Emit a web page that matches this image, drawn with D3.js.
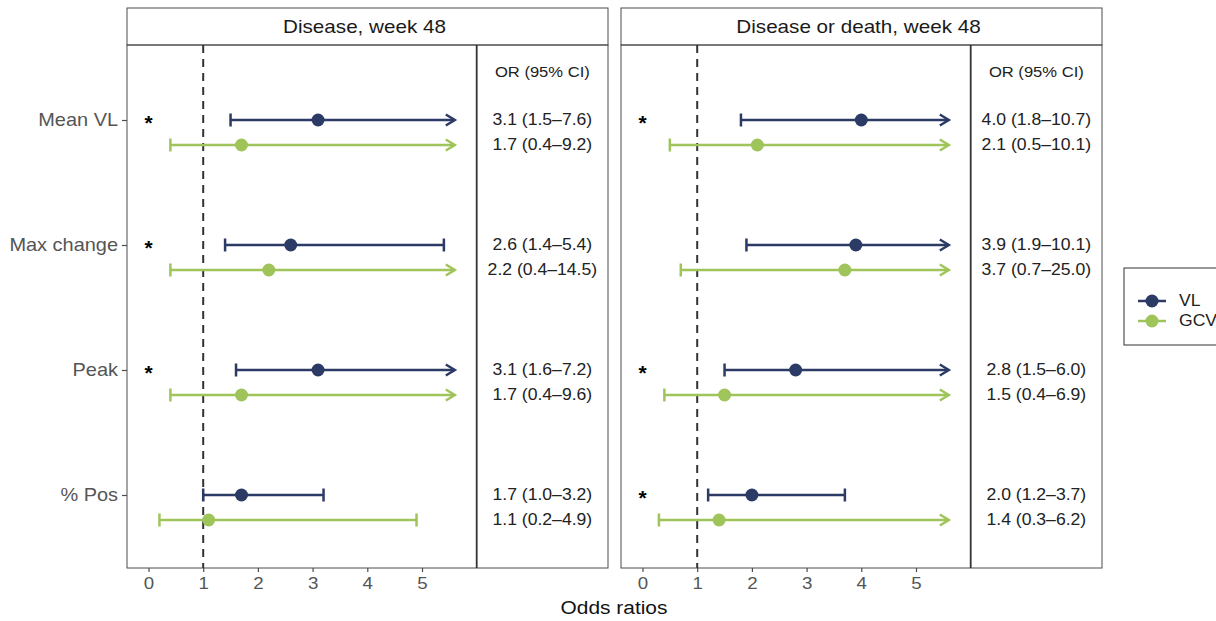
<!DOCTYPE html>
<html><head><meta charset="utf-8">
<script src="https://cdn.jsdelivr.net/npm/d3@7"></script>
<style>body{margin:0;background:#fff;} text{font-family:"Liberation Sans",Arial,sans-serif;}</style>
</head><body><svg id="c" width="1216" height="621"></svg>
<script>
const categories = ["Mean VL","Max change","Peak","% Pos"];
const panels = ["Disease, week 48","Disease or death, week 48"];
const series = ["VL","GCV"];
const colors = ["#2c3a66","#9fc45a"];
const xTicks = [0,1,2,3,4,5];
const capValue = 5.6;
// Disease, week 48
const diseaseVL_or = [3.1,2.6,3.1,1.7], diseaseVL_lo = [1.5,1.4,1.6,1.0], diseaseVL_hi = [7.6,5.4,7.2,3.2];
const diseaseGCV_or = [1.7,2.2,1.7,1.1], diseaseGCV_lo = [0.4,0.4,0.4,0.2], diseaseGCV_hi = [9.2,14.5,9.6,4.9];
const diseaseStar = [true,true,true,false];
// Disease or death, week 48
const deathVL_or = [4.0,3.9,2.8,2.0], deathVL_lo = [1.8,1.9,1.5,1.2], deathVL_hi = [10.7,10.1,6.0,3.7];
const deathGCV_or = [2.1,3.7,1.5,1.4], deathGCV_lo = [0.5,0.7,0.4,0.3], deathGCV_hi = [10.1,25.0,6.9,6.2];
const deathStar = [true,false,true,true];

const panelData = [
  {title:panels[0], star:diseaseStar, s:[[diseaseVL_or,diseaseVL_lo,diseaseVL_hi],[diseaseGCV_or,diseaseGCV_lo,diseaseGCV_hi]]},
  {title:panels[1], star:deathStar, s:[[deathVL_or,deathVL_lo,deathVL_hi],[deathGCV_or,deathGCV_lo,deathGCV_hi]]}
];

// horizontally widen text around its anchor (the reference font is wider than Liberation Sans)
function stretch(sel, k) {
  sel.each(function() {
    const t = d3.select(this);
    const x = +t.attr("x") || 0;
    t.attr("x", x / k).attr("transform", `scale(${k},1)`);
  });
  return sel;
}

const svg = d3.select("#c");
const panelW = 481, panelGap = 13, left0 = 127, stripTop = 8, panelTop = 45, panelBot = 568;
const y = d3.scalePoint().domain(categories).range([120, 495]);
const dodge = 25;
const fmt = d3.format(".1f");

panelData.forEach((p, pi) => {
  const px = left0 + pi * (panelW + panelGap);
  const x = d3.scaleLinear().domain([0,5]).range([px + 21.5, px + 295]);
  const g = svg.append("g");
  // strip
  g.append("rect").attr("x", px).attr("y", stripTop).attr("width", panelW).attr("height", panelTop - stripTop)
    .attr("fill", "#fff").attr("stroke", "#4d4d4d").attr("stroke-width", 1);
  stretch(g.append("text").attr("x", px + panelW/2 - 3).attr("y", 33).attr("text-anchor","middle")
    .attr("font-size", 17.5).attr("fill", "#1a1a1a").text(p.title), 1.18);
  // panel border
  g.append("rect").attr("x", px).attr("y", panelTop).attr("width", panelW).attr("height", panelBot - panelTop)
    .attr("fill", "none").attr("stroke", "#4d4d4d").attr("stroke-width", 1);
  // table separator
  const sepX = x(6);
  g.append("line").attr("x1", sepX).attr("x2", sepX).attr("y1", panelTop).attr("y2", panelBot)
    .attr("stroke", "#333").attr("stroke-width", 1.8);
  // reference line
  g.append("line").attr("x1", x(1)).attr("x2", x(1)).attr("y1", panelTop).attr("y2", panelBot)
    .attr("stroke", "#333").attr("stroke-width", 2).attr("stroke-dasharray", "8,6");
  // x axis
  const ax = g.append("g").attr("transform", `translate(0,${panelBot})`)
    .call(d3.axisBottom(x).tickValues(xTicks).tickSize(4).tickPadding(5).tickFormat(d3.format("d")));
  ax.select(".domain").remove();
  ax.selectAll("line").attr("stroke", "#4d4d4d").attr("stroke-width", 1.2);
  stretch(ax.selectAll("text").attr("font-size", 17).attr("fill", "#555").attr("font-family", '"Liberation Sans",Arial,sans-serif'), 1.1);
  // y axis only on first panel
  if (pi === 0) {
    const ay = g.append("g").attr("transform", `translate(${px},0)`)
      .call(d3.axisLeft(y).tickSize(5).tickPadding(4));
    ay.select(".domain").remove();
    ay.selectAll("line").attr("stroke", "#4d4d4d").attr("stroke-width", 1.2);
    stretch(ay.selectAll("text").attr("font-size", 17.5).attr("fill", "#555").attr("font-family", '"Liberation Sans",Arial,sans-serif'), 1.14);
  }
  // OR header
  const colX = (sepX + px + panelW) / 2;
  stretch(g.append("text").attr("x", colX).attr("y", 77).attr("text-anchor", "middle")
    .attr("font-size", 15.5).attr("fill", "#222").text("OR (95% CI)"), 1.07);
  // stars
  categories.forEach((c, ci) => {
    if (p.star[ci]) g.append("text").attr("x", x(0)).attr("y", y(c) + 10).attr("text-anchor","middle")
      .attr("font-size", 21).attr("font-weight","bold").attr("fill", "#000").text("*");
  });
  // series
  p.s.forEach((arr, si) => {
    const [orv, lo, hi] = arr;
    const col = colors[si];
    categories.forEach((c, ci) => {
      const yy = y(c) + si * dodge;
      const xe = x(Math.min(hi[ci], capValue));
      g.append("line").attr("x1", x(lo[ci])).attr("x2", xe).attr("y1", yy).attr("y2", yy)
        .attr("stroke", col).attr("stroke-width", 2.5);
      g.append("line").attr("x1", x(lo[ci])).attr("x2", x(lo[ci])).attr("y1", yy - 6.5).attr("y2", yy + 6.5)
        .attr("stroke", col).attr("stroke-width", 2.5);
      if (hi[ci] > capValue) {
        g.append("path").attr("d", `M${xe-9},${yy-5.5}L${xe},${yy}L${xe-9},${yy+5.5}`)
          .attr("fill", "none").attr("stroke", col).attr("stroke-width", 2.5).attr("stroke-linejoin","miter");
      } else {
        g.append("line").attr("x1", xe).attr("x2", xe).attr("y1", yy - 6.5).attr("y2", yy + 6.5)
          .attr("stroke", col).attr("stroke-width", 2.5);
      }
      g.append("circle").attr("cx", x(orv[ci])).attr("cy", yy).attr("r", 6.5).attr("fill", col);
      stretch(g.append("text").attr("x", colX).attr("y", yy + 5.5).attr("text-anchor","middle")
        .attr("font-size", 16).attr("fill", "#222")
        .text(`${fmt(orv[ci])} (${fmt(lo[ci])}\u2013${fmt(hi[ci])})`), 1.1);
    });
  });
});

// x title
stretch(svg.append("text").attr("x", 614).attr("y", 614).attr("text-anchor","middle")
  .attr("font-size", 19).attr("fill", "#111").text("Odds ratios"), 1.1);

// legend
const lg = svg.append("g");
lg.append("rect").attr("x", 1124).attr("y", 268).attr("width", 120).attr("height", 77)
  .attr("fill", "#fff").attr("stroke", "#333").attr("stroke-width", 1);
series.forEach((s, i) => {
  const yy = 301 + i * 20;
  lg.append("line").attr("x1", 1138).attr("x2", 1166).attr("y1", yy).attr("y2", yy)
    .attr("stroke", colors[i]).attr("stroke-width", 2.5);
  lg.append("circle").attr("cx", 1152).attr("cy", yy).attr("r", 6.5).attr("fill", colors[i]);
  stretch(lg.append("text").attr("x", 1179).attr("y", yy + 5.5).attr("font-size", 16).attr("fill", "#222").text(s), 1.1);
});
</script></body></html>
